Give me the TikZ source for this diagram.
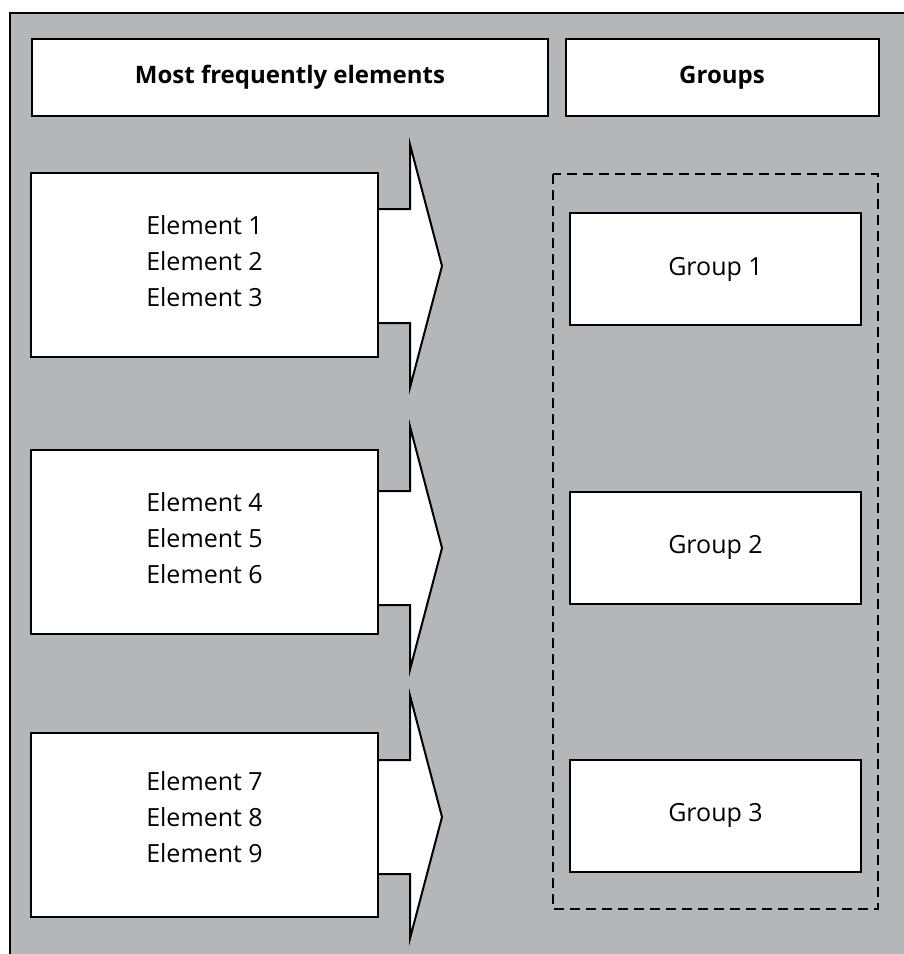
\documentclass[tikz,border=0pt]{standalone}
\usepackage{fontspec}
\setmainfont{Open Sans}
\definecolor{bggray}{HTML}{B4B7BA}
\begin{document}
\begin{tikzpicture}[x=1pt,y=-1pt,
  frame/.style={draw=black, line width=2.6pt, fill=bggray},
  hbox/.style={draw=black, line width=2pt, fill=white, inner sep=0pt, font=\fontsize{24}{28}\selectfont\bfseries},
  ebox/.style={draw=black, line width=2pt, fill=white, inner sep=0pt, minimum width=347pt, minimum height=184pt},
  etext/.style={align=center, inner sep=0pt, font=\fontsize{25}{36}\selectfont},
  gbox/.style={draw=black, line width=2pt, fill=white, inner sep=0pt, minimum width=291pt, minimum height=112pt, font=\fontsize{25}{30}\selectfont},
  bigarrow/.style={draw=black, line width=2pt, fill=white, line join=miter},
  groupframe/.style={draw=black, line width=2.2pt, dash pattern=on 10pt off 6pt}
]
\useasboundingbox (0,0) rectangle (904,954);
\draw[frame] (10,13) rectangle (914,964);

\node[hbox, minimum width=516pt, minimum height=77pt] (h1) at (290,77.5) {Most frequently elements};
\node[hbox, minimum width=313pt, minimum height=77pt] (h2) at (722,77.5) {Groups};

\draw[groupframe] (553,174) rectangle (878,909);

% arrows
\foreach \cy/\nm in {266/a1, 548/a2, 817/a3}{
  \draw[bigarrow] (370,\cy-57) -- (410,\cy-57) -- (410,\cy-121.5) -- (442,\cy) coordinate (\nm tip)
    -- (410,\cy+121.5) -- (410,\cy+57) -- (370,\cy+57) -- cycle;
}

\node[ebox] (e1) at (204.5,265) {};
\node[ebox] (e2) at (204.5,541.5) {};
\node[ebox] (e3) at (204.5,824.5) {};
\node[etext] (t1) at (204.5,261) {Element 1\\Element 2\\Element 3};
\node[etext] (t2) at (204.5,538) {Element 4\\Element 5\\Element 6};
\node[etext] (t3) at (204.5,817) {Element 7\\Element 8\\Element 9};

\node[gbox] (g1) at (715.5,269) {Group 1};
\node[gbox] (g2) at (715.5,547.5) {Group 2};
\node[gbox] (g3) at (715.5,815.5) {Group 3};
\end{tikzpicture}
\end{document}
